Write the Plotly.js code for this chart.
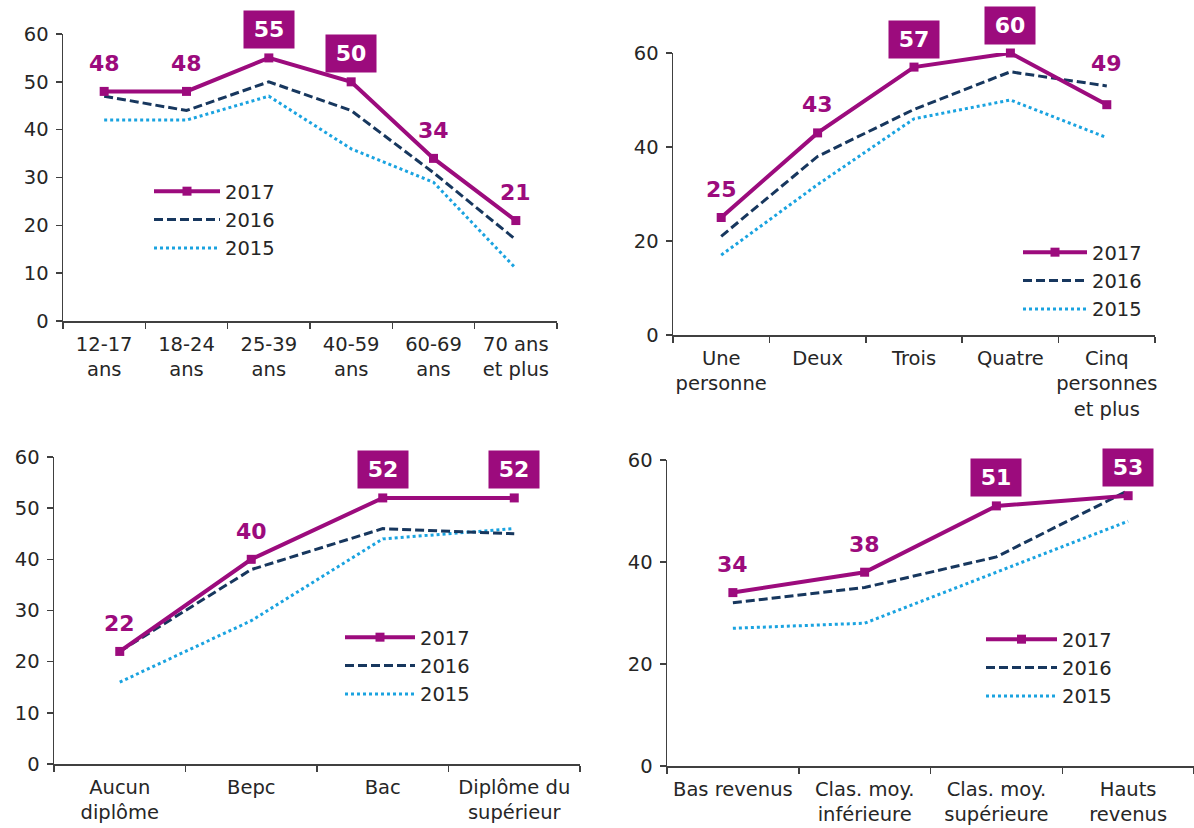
<!DOCTYPE html>
<html>
<head>
<meta charset="utf-8">
<script src="https://cdn.plot.ly/plotly-3.0.1.min.js"></script>
<style>html,body{margin:0;padding:0;background:#fff;}#chart{width:1194px;height:828px;}</style>
</head>
<body>
<div id="chart"></div>
<script>
// ---- Data ----
const years = ['2015', '2016', '2017'];

const ages = ['12-17<br>ans', '18-24<br>ans', '25-39<br>ans', '40-59<br>ans', '60-69<br>ans', '70 ans<br>et plus'];
const age2017 = [48, 48, 55, 50, 34, 21];
const age2016 = [47, 44, 50, 44, 31, 17];
const age2015 = [42, 42, 47, 36, 29, 11];

const foyer = ['Une<br>personne', 'Deux', 'Trois', 'Quatre', 'Cinq<br>personnes<br>et plus'];
const foyer2017 = [25, 43, 57, 60, 49];
const foyer2016 = [21, 38, 48, 56, 53];
const foyer2015 = [17, 32, 46, 50, 42];

const diplome = ['Aucun<br>diplôme', 'Bepc', 'Bac', 'Diplôme du<br>supérieur'];
const dip2017 = [22, 40, 52, 52];
const dip2016 = [22, 38, 46, 45];
const dip2015 = [16, 28, 44, 46];

const revenus = ['Bas revenus', 'Clas. moy.<br>inférieure', 'Clas. moy.<br>supérieure', 'Hauts<br>revenus'];
const rev2017 = [34, 38, 51, 53];
const rev2016 = [32, 35, 41, 54];
const rev2015 = [27, 28, 38, 48];

// which 2017 labels are drawn in a filled box
const boxedAge = [2, 3];
const boxedFoyer = [2, 3];
const boxedDip = [2, 3];
const boxedRev = [2, 3];

// ---- Style ----
const PURPLE = '#9C0B7D';
const NAVY = '#17375E';
const SKY = '#1AA3E0';
const AXIS = '#404040';
const TXT = '#262626';
const FONT = 'DejaVu Sans, Verdana, sans-serif';
const FS = 19.5;

const W = 1194, H = 828;
const px = v => v / W;
const py = v => 1 - v / H;

const panels = [
  {cats: ages, s17: age2017, s16: age2016, s15: age2015, boxed: boxedAge,
   dom: {x: [63, 557], y: [321, 34]}, dtick: 10,
   leg: {x: 149, y: 172, w: 66}, extra: {}},
  {cats: foyer, s17: foyer2017, s16: foyer2016, s15: foyer2015, boxed: boxedFoyer,
   dom: {x: [673, 1155], y: [335, 53]}, dtick: 20,
   leg: {x: 1018, y: 233, w: 64}, extra: {4: 41}},
  {cats: diplome, s17: dip2017, s16: dip2016, s15: dip2015, boxed: boxedDip,
   dom: {x: [54, 580], y: [764, 457]}, dtick: 10,
   leg: {x: 340, y: 618, w: 70}, extra: {}},
  {cats: revenus, s17: rev2017, s16: rev2016, s15: rev2015, boxed: boxedRev,
   dom: {x: [667, 1194], y: [766, 460]}, dtick: 20,
   leg: {x: 981, y: 620, w: 71}, extra: {}}
];

const traces = [];
const annotations = [];
const layout = {
  width: W, height: H,
  margin: {l: 0, r: 0, t: 0, b: 0},
  paper_bgcolor: '#fff', plot_bgcolor: '#fff',
  font: {family: FONT, size: FS, color: TXT},
  showlegend: true,
  annotations: annotations
};

panels.forEach((p, i) => {
  const n = i + 1;
  const xa = 'x' + (n === 1 ? '' : n), ya = 'y' + (n === 1 ? '' : n);
  const xk = 'xaxis' + (n === 1 ? '' : n), yk = 'yaxis' + (n === 1 ? '' : n);
  const lg = 'legend' + (n === 1 ? '' : n);

  traces.push({
    x: p.cats, y: p.s15, xaxis: xa, yaxis: ya, name: years[0], legend: lg,
    mode: 'lines', type: 'scatter', cliponaxis: false,
    line: {color: SKY, width: 3, dash: '3px,3px'}, hoverinfo: 'skip'
  });
  traces.push({
    x: p.cats, y: p.s16, xaxis: xa, yaxis: ya, name: years[1], legend: lg,
    mode: 'lines', type: 'scatter', cliponaxis: false,
    line: {color: NAVY, width: 3, dash: '9px,4px'}, hoverinfo: 'skip'
  });
  traces.push({
    x: p.cats, y: p.s17, xaxis: xa, yaxis: ya, name: years[2], legend: lg,
    mode: 'lines+markers', type: 'scatter', cliponaxis: false,
    line: {color: PURPLE, width: 4},
    marker: {symbol: 'square', size: 9, color: PURPLE}, hoverinfo: 'skip'
  });

  layout[xk] = {
    domain: [px(p.dom.x[0]), px(p.dom.x[1])],
    anchor: ya, type: 'category',
    range: [-0.5, p.cats.length - 0.5],
    showline: true, linecolor: AXIS, linewidth: 1.5,
    ticks: 'outside', tickson: 'boundaries', ticklen: 6, tickcolor: AXIS, tickwidth: 1.5,
    showgrid: false, zeroline: false, tickangle: 0,
    tickfont: {family: FONT, size: FS, color: TXT},
    ticklabelstandoff: 5,
    fixedrange: true
  };
  layout[yk] = {
    domain: [py(p.dom.y[0]), py(p.dom.y[1])],
    anchor: xa, range: [0, 60], dtick: p.dtick, tick0: 0,
    showline: true, linecolor: AXIS, linewidth: 1.5,
    ticks: 'outside', ticklen: 6, tickcolor: AXIS, tickwidth: 1.5,
    showgrid: false, zeroline: false,
    tickfont: {family: FONT, size: FS, color: TXT},
    ticklabelstandoff: 3,
    fixedrange: true
  };
  layout[lg] = {
    x: px(p.leg.x), y: py(p.leg.y), xanchor: 'left', yanchor: 'top',
    xref: 'paper', yref: 'paper',
    traceorder: 'reversed', itemwidth: p.leg.w,
    bgcolor: 'rgba(0,0,0,0)', borderwidth: 0,
    font: {family: FONT, size: FS, color: TXT},
    itemclick: false, itemdoubleclick: false
  };

  p.s17.forEach((v, k) => {
    const boxed = p.boxed.indexOf(k) >= 0;
    const shift = p.extra[k] !== undefined ? p.extra[k] : 28;
    const a = {
      x: p.cats[k], y: v, xref: xa, yref: ya,
      text: String(v), showarrow: false,
      xanchor: 'center', yanchor: 'middle', yshift: shift,
      font: {family: FONT, size: 22, weight: 'bold', color: boxed ? '#fff' : PURPLE}
    };
    if (boxed) {
      a.bgcolor = PURPLE; a.width = 48; a.height = 35;
    }
    annotations.push(a);
  });
});

Plotly.newPlot('chart', traces, layout, {displayModeBar: false, staticPlot: true});
</script>
</body>
</html>
